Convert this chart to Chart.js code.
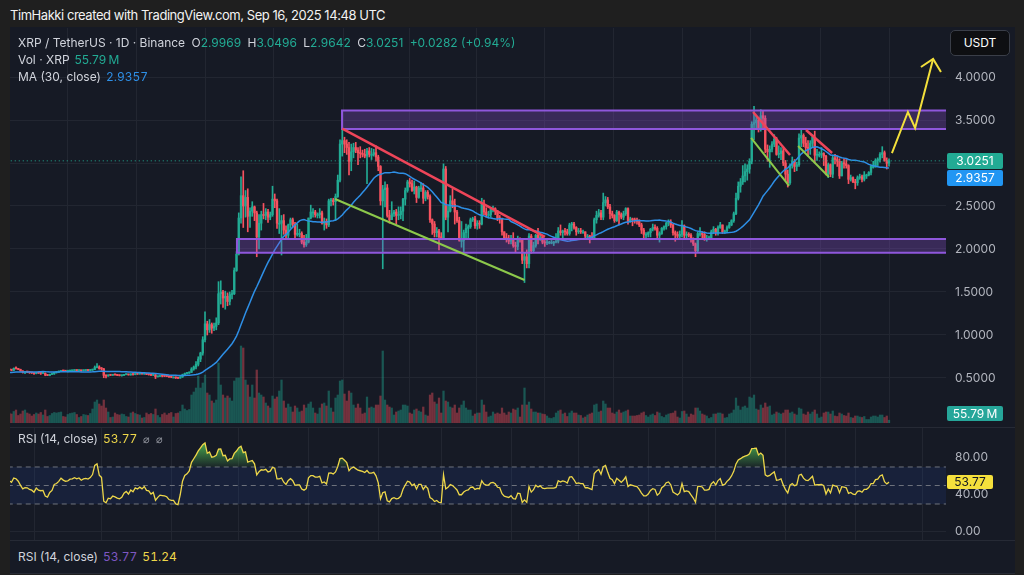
<!DOCTYPE html>
<html>
<head>
<meta charset="utf-8">
<script src="https://cdn.jsdelivr.net/npm/chart.js@4.4.1/dist/chart.umd.min.js"></script>
<style>
  body { margin:0; width:1024px; height:575px; background:#1f1f1f; position:relative; overflow:hidden;
         font-family: Inter, "Noto Sans", sans-serif; }
  .abs { position:absolute; }
  #head { left:10px; top:7px; color:#f2f2f2; font-size:13px; letter-spacing:-0.45px; }
  #frame { left:10px; top:27px; width:1005px; height:547px; background:#161a25; }
  canvas { position:absolute; left:10px; }
  .sep { position:absolute; left:10px; width:1005px; height:1px; background:#262a35; }
  .leg { position:absolute; left:18px; font-size:12px; color:#d1d4dc; white-space:nowrap; line-height:16px; }
  .leg b { font-weight:normal; margin-left:5px; }
  .bl, .y, .p { font-variant-numeric: tabular-nums; }
  .g { color:#22ab94; }
  .bl { color:#2e8fe6; }
  .y { color:#eed74a; }
  .p { color:#7e57c2; }
  .k { margin-left:3px; }
  .ic { color:#9598a1; font-size:11px; margin-left:6px; }
  .badge { position:absolute; left:947px; width:56px; height:16px; line-height:16px; font-size:12px;
           color:#fff; text-align:center; border-radius:2px; }
  #usdt { left:950px; top:30px; width:58px; height:24px; line-height:24px; text-align:center; color:#fff;
          font-size:12px; background:#0e0f12; border:1px solid #3a3e48; border-radius:5px; }
</style>
</head>
<body>
<div id="head" class="abs">TimHakki created with TradingView.com, Sep 16, 2025 14:48 UTC</div>
<div id="frame" class="abs"></div>
<canvas id="main" width="1005" height="399" style="top:28px"></canvas>
<div class="sep" style="top:427px"></div>
<canvas id="rsi" width="1005" height="112" style="top:428px"></canvas>
<div class="sep" style="top:540px"></div>
<div class="sep" style="top:573px"></div>

<div class="leg" style="top:35px">XRP / TetherUS · 1D · Binance <span class="k">O</span><span class="g">2.9969</span> <span class="k">H</span><span class="g">3.0496</span> <span class="k">L</span><span class="g">2.9642</span> <span class="k">C</span><span class="g">3.0251</span> <span class="g k">+0.0282 (+0.94%)</span></div>
<div class="leg" style="top:52px">Vol · XRP<b class="g">55.79&#8239;M</b></div>
<div class="leg" style="top:69px">MA (30, close)<b class="bl">2.9357</b></div>
<div class="leg" style="top:431px">RSI (14, close)<b class="y">53.77</b><span class="ic">⌀</span><span class="ic">⌀</span></div>
<div class="leg" style="top:549px">RSI (14, close)<b class="p">53.77</b><b class="y">51.24</b></div>

<div id="usdt" class="abs">USDT</div>
<div id="bPrice" class="badge" style="background:#22ab94">3.0251</div>
<div id="bMa" class="badge" style="background:#2196f3">2.9357</div>
<div id="bVol" class="badge" style="background:#26a69a;height:15px;line-height:15px">55.79&#8239;M</div>
<div id="bRsi" class="badge" style="background:#f5e03c;color:#131722;height:14px;line-height:14px;width:46px">53.77</div>

<script>
// daily candles, XRP/USDT, index 0 = 1 Aug 2024 (first 20 days sit left of the view)
const startDate = Date.UTC(2024, 7, 1);
const DAY = 86400000;

const closes = [
  // Aug 2024
  0.566,0.553,0.542,0.529,0.505,0.502,0.565,0.616,0.575,0.567,0.541,0.573,0.565,0.560,0.557,0.561,0.569,0.594,0.601,0.604,0.596,0.590,0.613,0.610,0.600,0.582,0.566,0.571,0.570,0.563,0.560,
  // Sep
  0.552,0.565,0.557,0.555,0.556,0.534,0.530,0.542,0.548,0.566,0.569,0.576,0.587,0.582,0.579,0.580,0.585,0.586,0.589,0.587,0.589,0.585,0.588,0.589,0.588,0.591,0.597,0.622,0.628,0.610,
  // Oct
  0.606,0.531,0.523,0.535,0.532,0.539,0.536,0.531,0.528,0.531,0.540,0.544,0.536,0.545,0.540,0.549,0.546,0.550,0.546,0.551,0.542,0.541,0.533,0.536,0.514,0.519,0.523,0.522,0.521,0.519,0.512,
  // Nov
  0.510,0.510,0.501,0.499,0.512,0.537,0.552,0.557,0.566,0.604,0.628,0.660,0.720,0.790,0.945,1.13,1.06,1.12,1.08,1.10,1.14,1.48,1.50,1.43,1.45,1.39,1.47,1.48,1.75,1.94,
  // Dec
  2.36,2.62,2.50,2.60,2.38,2.44,2.49,2.42,2.14,2.30,2.40,2.39,2.43,2.37,2.40,2.58,2.56,2.30,2.30,2.33,2.22,2.16,2.28,2.34,2.29,2.17,2.18,2.18,2.08,2.05,2.08,
  // Jan 2025
  2.36,2.43,2.43,2.40,2.40,2.42,2.30,2.32,2.28,2.56,2.57,2.55,2.61,2.80,3.22,3.26,3.22,3.18,3.02,3.13,3.18,3.15,3.12,3.11,3.10,3.08,3.14,3.10,3.10,3.12,3.07,
  // Feb
  2.96,2.56,2.69,2.71,2.39,2.34,2.41,2.43,2.39,2.40,2.44,2.58,2.68,2.78,2.76,2.68,2.72,2.60,2.71,2.71,2.59,2.66,2.61,2.34,2.29,2.19,2.21,2.14,
  // Mar
  2.13,2.93,2.37,2.44,2.56,2.52,2.43,2.33,2.10,2.10,2.19,2.24,2.26,2.34,2.35,2.27,2.30,2.29,2.52,2.43,2.40,2.40,2.46,2.47,2.44,2.36,2.35,2.20,2.13,2.11,2.09,
  // Apr
  2.12,2.04,2.03,2.12,2.11,1.87,1.91,1.83,2.15,1.98,2.04,2.16,2.11,2.14,2.08,2.07,2.08,2.08,2.08,2.08,2.09,2.21,2.19,2.21,2.20,2.18,2.28,2.29,2.25,2.20,
  // May
  2.21,2.20,2.20,2.15,2.15,2.14,2.13,2.34,2.39,2.42,2.37,2.54,2.57,2.49,2.41,2.39,2.33,2.43,2.40,2.37,2.41,2.47,2.32,2.35,2.34,2.33,2.32,2.28,2.22,2.17,2.17,
  // Jun
  2.19,2.23,2.25,2.24,2.16,2.18,2.24,2.26,2.30,2.31,2.28,2.19,2.17,2.15,2.17,2.27,2.16,2.17,2.16,2.11,2.06,1.98,2.18,2.18,2.17,2.12,2.12,2.13,2.20,2.23,
  // Jul
  2.19,2.25,2.28,2.20,2.21,2.25,2.28,2.33,2.41,2.59,2.73,2.78,2.85,2.90,2.93,3.02,3.45,3.47,3.50,3.41,3.55,3.52,3.16,3.13,3.16,3.22,3.28,3.10,3.11,3.14,3.00,
  // Aug
  2.87,2.77,2.97,3.02,2.96,2.98,3.29,3.32,3.23,3.18,3.17,3.23,3.30,3.09,3.10,3.10,3.11,3.08,2.87,2.98,2.87,3.06,3.04,3.02,2.85,3.00,2.99,2.97,2.81,2.83,2.78,
  // Sep
  2.77,2.83,2.84,2.81,2.86,2.86,2.89,2.96,2.96,3.03,3.04,3.10,3.12,3.03,2.9969,3.0251
];

const highs = [
  0.580,0.578,0.560,0.548,0.530,0.515,0.640,0.627,0.617,0.578,0.574,0.576,0.582,0.574,0.568,0.571,0.571,0.605,0.606,0.614,0.612,0.602,0.617,0.630,0.612,0.603,0.585,0.575,0.577,0.575,0.565,
  0.566,0.568,0.571,0.561,0.562,0.560,0.541,0.545,0.556,0.568,0.574,0.582,0.590,0.590,0.586,0.584,0.592,0.590,0.597,0.594,0.591,0.590,0.594,0.593,0.592,0.597,0.604,0.640,0.667,0.642,
  0.622,0.612,0.538,0.539,0.537,0.541,0.547,0.539,0.535,0.533,0.544,0.547,0.545,0.550,0.552,0.552,0.551,0.555,0.551,0.553,0.557,0.545,0.543,0.540,0.541,0.523,0.526,0.526,0.532,0.525,0.524,
  0.520,0.515,0.513,0.508,0.517,0.545,0.558,0.565,0.572,0.620,0.640,0.690,0.747,0.800,0.980,1.27,1.16,1.18,1.14,1.14,1.20,1.62,1.63,1.52,1.51,1.49,1.50,1.52,1.78,1.97,
  2.42,2.84,2.91,2.68,2.70,2.48,2.55,2.50,2.44,2.40,2.44,2.53,2.47,2.46,2.43,2.73,2.64,2.58,2.47,2.39,2.40,2.27,2.29,2.36,2.36,2.31,2.29,2.23,2.20,2.16,2.17,
  2.36,2.51,2.47,2.45,2.42,2.47,2.44,2.36,2.35,2.58,2.59,2.59,2.64,2.86,3.27,3.40,3.30,3.27,3.24,3.22,3.23,3.24,3.18,3.19,3.15,3.16,3.17,3.18,3.17,3.16,3.20,
  3.09,2.97,2.74,2.78,2.75,2.45,2.55,2.45,2.46,2.49,2.49,2.59,2.71,2.80,2.82,2.80,2.79,2.73,2.73,2.77,2.76,2.68,2.68,2.63,2.35,2.32,2.25,2.23,
  2.19,2.99,2.96,2.50,2.62,2.70,2.58,2.45,2.37,2.32,2.22,2.29,2.28,2.36,2.37,2.38,2.33,2.33,2.59,2.57,2.48,2.44,2.47,2.50,2.48,2.45,2.39,2.36,2.20,2.18,2.16,
  2.16,2.19,2.08,2.15,2.13,2.12,1.95,1.99,2.18,2.17,2.08,2.17,2.24,2.19,2.16,2.10,2.11,2.09,2.10,2.09,2.18,2.25,2.28,2.22,2.24,2.23,2.30,2.31,2.31,2.26,
  2.24,2.24,2.22,2.20,2.17,2.16,2.19,2.36,2.44,2.46,2.45,2.65,2.61,2.60,2.52,2.44,2.40,2.45,2.44,2.42,2.44,2.48,2.48,2.37,2.36,2.36,2.36,2.34,2.30,2.24,2.19,
  2.20,2.24,2.29,2.28,2.26,2.20,2.25,2.27,2.31,2.34,2.34,2.29,2.21,2.20,2.21,2.33,2.28,2.20,2.19,2.18,2.13,2.07,2.20,2.25,2.20,2.20,2.16,2.15,2.22,2.26,
  2.24,2.27,2.31,2.28,2.22,2.27,2.31,2.34,2.43,2.65,2.78,2.82,2.97,2.99,2.98,3.05,3.48,3.66,3.55,3.53,3.62,3.61,3.55,3.21,3.20,3.25,3.33,3.30,3.20,3.18,3.18,
  3.03,2.92,2.99,3.07,3.04,3.01,3.34,3.38,3.34,3.30,3.26,3.26,3.33,3.37,3.16,3.13,3.18,3.12,3.09,3.00,2.99,3.09,3.10,3.08,3.05,3.02,3.05,3.04,2.98,2.86,2.84,
  2.81,2.85,2.87,2.86,2.90,2.87,2.90,2.98,3.02,3.05,3.06,3.12,3.19,3.14,3.06,3.0496
];

const lows = [
  0.552,0.540,0.535,0.520,0.433,0.487,0.500,0.553,0.566,0.560,0.538,0.533,0.557,0.550,0.547,0.553,0.557,0.565,0.586,0.594,0.588,0.583,0.585,0.602,0.596,0.578,0.557,0.550,0.561,0.553,0.552,
  0.543,0.548,0.553,0.541,0.550,0.526,0.527,0.526,0.538,0.542,0.556,0.565,0.573,0.579,0.576,0.570,0.578,0.576,0.582,0.584,0.582,0.576,0.581,0.582,0.582,0.583,0.588,0.595,0.616,0.602,
  0.590,0.503,0.500,0.521,0.528,0.529,0.532,0.527,0.524,0.521,0.528,0.537,0.533,0.532,0.533,0.537,0.541,0.543,0.544,0.542,0.539,0.533,0.526,0.528,0.493,0.511,0.514,0.513,0.516,0.515,0.507,
  0.503,0.505,0.494,0.491,0.497,0.506,0.532,0.546,0.553,0.563,0.590,0.605,0.640,0.690,0.765,0.920,1.00,1.03,1.02,1.05,1.06,1.12,1.36,1.32,1.30,1.34,1.35,1.42,1.47,1.74,
  1.93,2.30,2.25,2.37,2.20,2.25,2.38,2.33,1.91,2.00,2.22,2.35,2.34,2.31,2.34,2.38,2.48,2.24,2.18,1.93,2.17,2.12,2.13,2.24,2.26,2.13,2.15,2.14,2.06,2.02,2.03,
  2.07,2.35,2.37,2.37,2.36,2.36,2.29,2.22,2.24,2.26,2.50,2.51,2.33,2.60,2.78,3.08,3.12,3.10,2.86,2.91,3.06,3.12,2.98,3.06,3.07,3.06,2.76,3.07,3.04,3.08,3.02,
  2.91,2.51,1.77,2.49,2.37,2.30,2.35,2.38,2.29,2.34,2.35,2.33,2.51,2.66,2.72,2.67,2.64,2.54,2.59,2.67,2.53,2.56,2.58,2.31,2.17,2.14,2.14,1.99,
  2.12,2.12,2.34,2.20,2.43,2.48,2.29,2.31,2.09,2.02,1.95,2.13,2.12,2.24,2.32,2.24,2.23,2.24,2.28,2.40,2.37,2.36,2.37,2.43,2.40,2.33,2.30,2.16,2.11,2.08,2.06,
  2.06,2.02,1.96,1.99,2.08,1.83,1.61,1.78,1.78,1.95,1.96,2.02,2.06,2.10,2.06,2.03,2.05,2.06,2.06,2.04,2.07,2.07,2.16,2.13,2.16,2.16,2.16,2.21,2.23,2.16,
  2.18,2.18,2.18,2.13,2.11,2.07,2.11,2.13,2.30,2.37,2.34,2.34,2.50,2.47,2.35,2.36,2.31,2.32,2.28,2.35,2.34,2.39,2.29,2.31,2.27,2.30,2.29,2.26,2.18,2.13,2.13,
  2.14,2.14,2.21,2.22,2.12,2.08,2.17,2.22,2.23,2.27,2.25,2.16,2.09,2.13,2.12,2.14,2.13,2.12,2.14,2.08,2.04,1.91,1.96,2.15,2.12,2.10,2.09,2.11,2.13,2.18,
  2.16,2.16,2.24,2.18,2.18,2.19,2.24,2.27,2.31,2.40,2.57,2.66,2.75,2.78,2.80,2.88,2.99,3.27,3.41,3.36,3.37,3.40,3.12,3.02,2.95,3.13,3.19,3.09,3.06,3.04,2.97,
  2.80,2.72,2.75,2.94,2.90,2.91,2.96,3.19,3.19,3.14,3.08,3.10,3.18,3.00,3.03,3.07,3.06,2.97,2.86,2.83,2.84,2.83,2.99,2.96,2.82,2.85,2.94,2.94,2.76,2.79,2.77,
  2.70,2.74,2.81,2.78,2.79,2.82,2.85,2.86,2.94,2.95,2.97,3.01,3.06,3.02,2.93,2.9642
];

// volume in millions of XRP
const volumes = [
  240,260,200,210,600,300,600,450,300,150,180,260,220,200,220,180,130,250,220,230,200,180,230,260,150,180,240,260,200,180,140,
  170,200,180,210,160,260,130,150,190,210,200,210,220,130,120,170,190,200,210,170,110,130,170,160,150,190,280,420,460,380,
  340,460,300,220,110,120,200,170,160,180,170,130,120,200,220,190,170,160,100,110,200,170,190,170,280,150,110,170,200,160,190,
  210,120,190,200,230,360,280,250,270,560,620,700,940,700,800,960,600,560,440,400,460,1200,760,560,500,540,500,440,840,900,
  900,1540,1500,860,760,520,760,500,1060,600,560,520,400,340,300,540,480,520,640,860,440,300,380,320,220,340,300,220,240,360,300,
  380,420,300,200,180,300,380,400,340,640,300,220,500,560,840,860,580,440,640,600,360,300,380,300,180,200,520,300,320,300,360,
  360,540,1440,460,360,320,300,160,220,240,260,360,360,340,200,180,260,280,240,220,320,160,140,560,600,420,380,500,
  200,640,440,420,320,300,360,200,300,360,440,300,260,260,140,180,200,200,460,360,220,120,140,220,180,200,180,300,200,160,220,
  200,280,260,300,120,360,700,360,420,280,220,220,200,200,180,170,140,100,90,110,200,240,260,180,200,130,200,240,200,200,
  160,150,100,120,160,180,200,360,380,220,240,440,380,300,300,200,180,220,260,200,220,240,260,140,140,140,150,160,200,220,150,
  120,160,180,150,220,200,130,110,160,180,190,200,240,120,100,230,240,180,120,180,160,300,300,240,180,160,140,90,110,180,
  180,200,200,180,100,110,180,200,260,500,340,260,320,340,300,520,500,560,280,260,360,300,400,320,340,160,180,220,200,180,200,
  260,260,200,220,180,160,300,280,180,160,220,180,220,260,180,100,120,200,220,220,180,240,140,130,200,180,150,140,200,110,100,
  140,140,120,110,130,70,70,120,140,140,120,160,160,110,140,55.79
];

const priceTicks = [0.5, 1, 1.5, 2, 2.5, 3, 3.5, 4];
const rsiTicks = [0, 40, 80];
const rsiLevels = [70, 50, 30];
const lastPrice = 3.0251, lastMa = 2.9357, lastVol = 55.79, lastRsi = 53.77;

// drawings: [day index, price]
const topZone = { from: 167.9, lo: 3.395, hi: 3.61 };
const bottomZone = { from: 121.2, lo: 1.955, hi: 2.115 };
const redLines = [[[168, 3.40], [258.1, 2.14]], [[350.6, 3.593], [367, 3.093]], [[374.1, 3.384], [385.7, 3.116]]];
const greenLines = [[[164.8, 2.581], [249, 1.64]], [[349.7, 3.291], [366.6, 2.733]], [[370.6, 3.198], [384.3, 2.837]]];
const arrowPath = [[412.3, 3.116], [419.4, 3.593], [422.6, 3.407], [430.6, 4.209]];
const arrowHead = [[425.2, 4.116], [430.6, 4.209], [434.1, 4.058]];

const xMin = 20.33, xMax = 436.33;

// month start gridlines
const monthStarts = [];
for (let m = 8; m <= 21; m++) {
  monthStarts.push(Math.round((Date.UTC(2024, m, 1) - startDate) / DAY));
}

const opens = closes.map((c, i) => i ? closes[i - 1] : c);
const isUp = closes.map((c, i) => c >= opens[i]);
const UP = '#22ab94', DOWN = '#f7525f';
const gridColor = '#222631';

// MA(30)
const ma = closes.map((c, i) => {
  const s = closes.slice(Math.max(0, i - 29), i + 1);
  return { x: i, y: s.reduce((a, b) => a + b, 0) / s.length };
});

// RSI(14), Wilder smoothing
const rsi = [];
let ag = 0, al = 0;
for (let i = 1; i < closes.length; i++) {
  const d = closes[i] - closes[i - 1];
  const gn = Math.max(d, 0), ls = Math.max(-d, 0);
  if (i <= 14) {
    ag += gn / 14; al += ls / 14;
    if (i < 14) continue;
  } else {
    ag = (ag * 13 + gn) / 14; al = (al * 13 + ls) / 14;
  }
  rsi.push({ x: i, y: al === 0 ? 100 : 100 - 100 / (1 + ag / al) });
}

const toXY = pts => pts.map(p => ({ x: p[0], y: p[1] }));
const hLine = v => [{ x: xMin - 5, y: v }, { x: xMax + 5, y: v }];

function zoneSets(z) {
  return [
    { type: 'line', data: [{ x: z.from, y: z.hi }, { x: xMax + 5, y: z.hi }], fill: { target: { value: z.lo } },
      backgroundColor: 'rgba(140,80,210,0.30)', borderWidth: 0, pointRadius: 0, order: 4 },
    { type: 'line', data: [{ x: xMax + 5, y: z.hi }, { x: z.from, y: z.hi }, { x: z.from, y: z.lo }, { x: xMax + 5, y: z.lo }],
      borderColor: '#8f57dc', borderWidth: 2, pointRadius: 0, fill: false, order: 2 }
  ];
}

const trendSets = [
  ...redLines.map(l => ({ type: 'line', data: toXY(l), borderColor: '#ee4559', borderWidth: 2.5, pointRadius: 0, order: 1 })),
  ...greenLines.map(l => ({ type: 'line', data: toXY(l), borderColor: '#8cc84b', borderWidth: 2, pointRadius: 0, order: 1 })),
  { type: 'line', data: toXY(arrowPath), borderColor: '#f3e03b', borderWidth: 2, pointRadius: 0, order: 0 },
  { type: 'line', data: toXY(arrowHead), borderColor: '#f3e03b', borderWidth: 2, pointRadius: 0, order: 0 }
];

const font = { family: 'Inter, "Noto Sans", sans-serif', size: 12 };
const xScale = {
  type: 'linear', min: xMin, max: xMax, offset: false,
  grid: { color: gridColor, drawTicks: false }, border: { display: false },
  ticks: { display: false },
  afterBuildTicks: s => { s.ticks = monthStarts.map(v => ({ value: v })); }
};

const main = new Chart(document.getElementById('main'), {
  type: 'bar',
  data: {
    datasets: [
      { data: volumes.map((v, i) => ({ x: i, y: v })), yAxisID: 'yv', grouped: false, barThickness: 1.6,
        backgroundColor: isUp.map(u => u ? 'rgba(34,171,148,0.42)' : 'rgba(247,82,95,0.42)'), clip: 0, order: 8 },
      { data: closes.map((c, i) => ({ x: i, y: [lows[i], highs[i]] })), grouped: false, barThickness: 1,
        backgroundColor: isUp.map(u => u ? UP : DOWN), clip: 0, order: 7 },
      { data: closes.map((c, i) => ({ x: i, y: [opens[i], c] })), grouped: false, barThickness: 1.7, minBarLength: 1,
        backgroundColor: isUp.map(u => u ? UP : DOWN), clip: 0, order: 6 },
      { type: 'line', data: ma, borderColor: '#2e8fe6', borderWidth: 1.5, pointRadius: 0, order: 5 },
      { type: 'line', data: hLine(lastPrice), borderColor: '#22ab94', borderWidth: 1, borderDash: [1, 3],
        pointRadius: 0, order: 3 },
      ...zoneSets(topZone),
      ...zoneSets(bottomZone),
      ...trendSets
    ]
  },
  options: {
    responsive: false, animation: false, events: [],
    layout: { padding: { bottom: 4 } },
    plugins: { legend: { display: false }, tooltip: { enabled: false } },
    scales: {
      x: xScale,
      y: {
        position: 'right', min: -0.0233, max: 4.5698,
        grid: { color: gridColor, drawTicks: false }, border: { display: false },
        ticks: { color: '#b2b5be', font, padding: 9, callback: v => v.toFixed(4) },
        afterBuildTicks: s => { s.ticks = priceTicks.map(v => ({ value: v })); },
        afterFit: s => { s.width = 69; s.paddingTop = 0; s.paddingBottom = 0; }
      },
      yv: { display: false, min: 0, max: 7900 }
    }
  }
});

const levelSet = (v, extra) => Object.assign({
  data: hLine(v), borderColor: '#6f737e', borderWidth: 1, borderDash: [5, 4], pointRadius: 0, fill: false
}, extra);

const rsiChart = new Chart(document.getElementById('rsi'), {
  type: 'line',
  data: {
    datasets: [
      { data: rsi, borderColor: '#eed74a', borderWidth: 1.3, pointRadius: 0, order: 0,
        fill: { target: { value: 70 }, below: 'rgba(0,0,0,0)' },
        backgroundColor: c => {
          const { ctx, chartArea, scales } = c.chart;
          if (!chartArea) return 'rgba(76,175,80,0.4)';
          const g = ctx.createLinearGradient(0, scales.y.getPixelForValue(96), 0, scales.y.getPixelForValue(70));
          g.addColorStop(0, 'rgba(76,175,80,0.95)');
          g.addColorStop(1, 'rgba(76,175,80,0.08)');
          return g;
        } },
      levelSet(rsiLevels[0], { fill: { target: { value: rsiLevels[2] } }, backgroundColor: 'rgba(41,82,200,0.13)', order: 2 }),
      levelSet(rsiLevels[1], { order: 1 }),
      levelSet(rsiLevels[2], { order: 1 })
    ]
  },
  options: {
    responsive: false, animation: false, events: [],
    plugins: { legend: { display: false }, tooltip: { enabled: false } },
    scales: {
      x: xScale,
      y: {
        position: 'right', min: -8.92, max: 112.16,
        grid: { color: c => c.tick && c.tick.value === 0 ? gridColor : 'rgba(0,0,0,0)', drawTicks: false },
        border: { display: false },
        ticks: { color: '#b2b5be', font, padding: 9, callback: v => v.toFixed(2) },
        afterBuildTicks: s => { s.ticks = rsiTicks.map(v => ({ value: v })); },
        afterFit: s => { s.width = 69; s.paddingTop = 0; s.paddingBottom = 0; }
      }
    }
  }
});

// value badges on the price scales
const pTop = main.scales.y.getPixelForValue(lastPrice) + 28 - 8;
document.getElementById('bPrice').style.top = pTop + 'px';
document.getElementById('bMa').style.top = Math.max(main.scales.y.getPixelForValue(lastMa) + 28 - 8, pTop + 17) + 'px';
document.getElementById('bVol').style.top = Math.min(main.scales.yv.getPixelForValue(lastVol) + 28 - 8, 406) + 'px';
document.getElementById('bRsi').style.top = (rsiChart.scales.y.getPixelForValue(lastRsi) + 428 - 7) + 'px';
</script>
</body>
</html>
